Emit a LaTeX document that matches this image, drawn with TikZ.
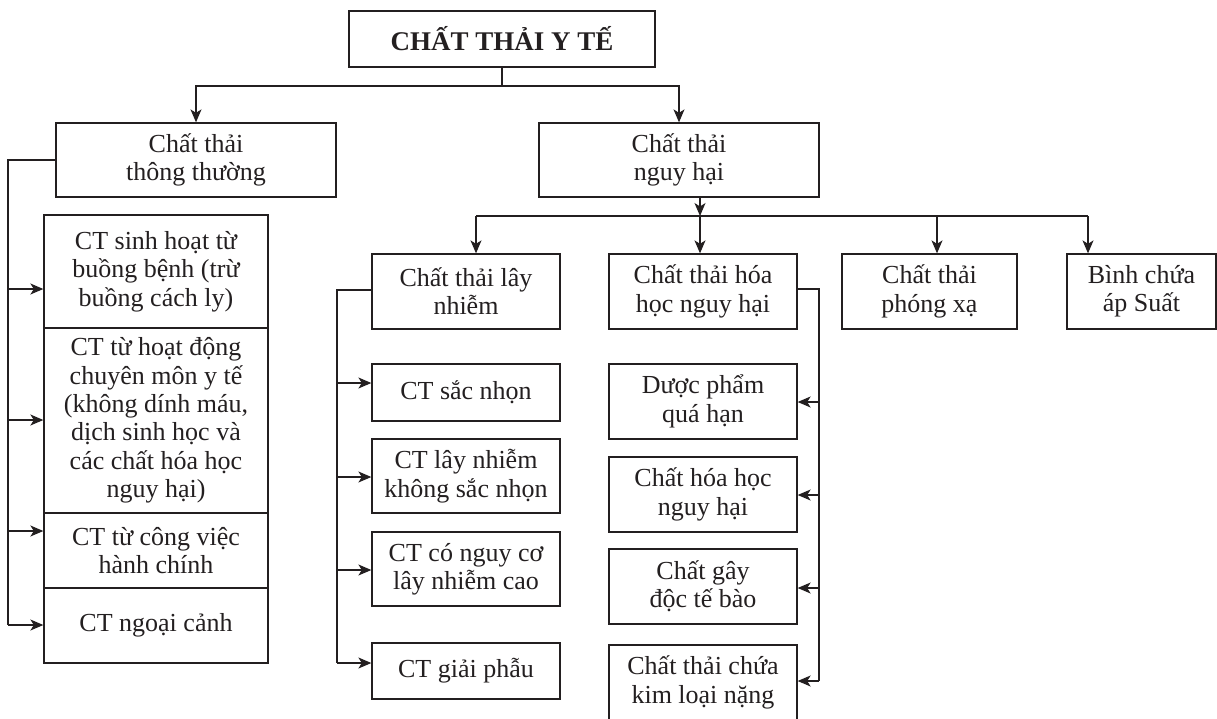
\documentclass[tikz,border=0pt]{standalone}
\usepackage{fontspec}
\setmainfont{Liberation Serif}
\usetikzlibrary{arrows.meta}
\definecolor{ink}{HTML}{231F20}
\begin{document}
\begin{tikzpicture}[x=1pt,y=-1pt,
  box/.style={draw=ink, text=ink, line width=1.3pt, align=center, inner sep=0pt,
    font=\fontsize{26}{28.4}\selectfont},
  ln/.style={draw=ink, line width=1.3pt},
  arr/.style={draw=ink, line width=1.3pt, -{Stealth[length=13pt,width=11pt,inset=3.5pt]}}]
\useasboundingbox (0,0) rectangle (1217,718);

% level 0
\node[box, minimum width=306pt, minimum height=56pt,
  font=\fontsize{27}{30}\selectfont\bfseries] (top) at (502,39) {CHẤT THẢI Y TẾ};

% level 1
\node[box, minimum width=280pt, minimum height=74pt] (A) at (196,160) {Chất thải\\thông thường};
\node[box, minimum width=280pt, minimum height=74pt] (B) at (679,160) {Chất thải\\nguy hại};

% left stack
\node[box, minimum width=224pt, minimum height=113pt] (a1) at (156,271.5) {CT sinh hoạt từ\\buồng bệnh (trừ\\buồng cách ly)};
\node[box, minimum width=224pt, minimum height=185pt] (a2) at (156,420.5) {CT từ hoạt động\\chuyên môn y tế\\(không dính máu,\\dịch sinh học và\\các chất hóa học\\nguy hại)};
\node[box, minimum width=224pt, minimum height=75pt] (a3) at (156,550.5) {CT từ công việc\\hành chính};
\node[box, minimum width=224pt, minimum height=75pt] (a4) at (156,625.5) {CT ngoại cảnh};

% level 2
\node[box, minimum width=188pt, minimum height=75pt] (C) at (466,291.5) {Chất thải lây\\nhiễm};
\node[box, minimum width=188pt, minimum height=75pt] (D) at (703,291.5) {Chất thải hóa\\học nguy hại};
\node[box, minimum width=175pt, minimum height=75pt] (E) at (929.5,291.5) {Chất thải\\phóng xạ};
\node[box, minimum width=149pt, minimum height=75pt] (F) at (1141.5,291.5) {Bình chứa\\áp Suất};

% C children
\node[box, minimum width=188pt, minimum height=57pt] (c1) at (466,392.5) {CT sắc nhọn};
\node[box, minimum width=188pt, minimum height=74pt] (c2) at (466,476) {CT lây nhiễm\\không sắc nhọn};
\node[box, minimum width=188pt, minimum height=74pt] (c3) at (466,569) {CT có nguy cơ\\lây nhiễm cao};
\node[box, minimum width=188pt, minimum height=56pt] (c4) at (466,671) {CT giải phẫu};

% D children
\node[box, minimum width=188pt, minimum height=75pt] (d1) at (703,401.5) {Dược phẩm\\quá hạn};
\node[box, minimum width=188pt, minimum height=75pt] (d2) at (703,494.5) {Chất hóa học\\nguy hại};
\node[box, minimum width=188pt, minimum height=75pt] (d3) at (703,586.5) {Chất gây\\độc tế bào};
\node[box, minimum width=188pt, minimum height=75pt] (d4) at (703,682.5) {Chất thải chứa\\kim loại nặng};

% bus 1
\coordinate (bus1) at (502,86);
\draw[ln] (top.south) -- (bus1);
\draw[arr] (bus1) -| (A.north);
\draw[arr] (bus1) -| (B.north);

% left trunk
\coordinate (l1) at (8,289);
\coordinate (l2) at (8,420);
\coordinate (l3) at (8,531);
\coordinate (l4) at (8,625);
\draw[ln] (A.west) -| (l4);
\draw[arr] (l1) -- (l1 -| a1.west);
\draw[arr] (l2) -- (l2 -| a2.west);
\draw[arr] (l3) -- (l3 -| a3.west);
\draw[arr] (l4) -- (l4 -| a4.west);

% bus 2
\coordinate (h1) at (476,216);
\coordinate (h2) at (700,216);
\coordinate (h3) at (937,216);
\coordinate (h4) at (1088,216);
\draw[arr] (h2 |- B.south) -- (h2);
\draw[ln] (h1) -- (h4);
\draw[arr] (h1) -- (h1 |- C.north);
\draw[arr] (h2) -- (h2 |- D.north);
\draw[arr] (h3) -- (h3 |- E.north);
\draw[arr] (h4) -- (h4 |- F.north);

% C trunk
\coordinate (m1) at (337,383);
\coordinate (m2) at (337,477);
\coordinate (m3) at (337,570);
\coordinate (m4) at (337,663);
\draw[ln] (C.west |- 0,290) -| (m4);
\draw[arr] (m1) -- (m1 -| c1.west);
\draw[arr] (m2) -- (m2 -| c2.west);
\draw[arr] (m3) -- (m3 -| c3.west);
\draw[arr] (m4) -- (m4 -| c4.west);

% D trunk
\coordinate (n1) at (819,402);
\coordinate (n2) at (819,495);
\coordinate (n3) at (819,588);
\coordinate (n4) at (819,681);
\draw[ln] (D.east |- 0,289) -| (n4);
\draw[arr] (n1) -- (n1 -| d1.east);
\draw[arr] (n2) -- (n2 -| d2.east);
\draw[arr] (n3) -- (n3 -| d3.east);
\draw[arr] (n4) -- (n4 -| d4.east);
\end{tikzpicture}
\end{document}
